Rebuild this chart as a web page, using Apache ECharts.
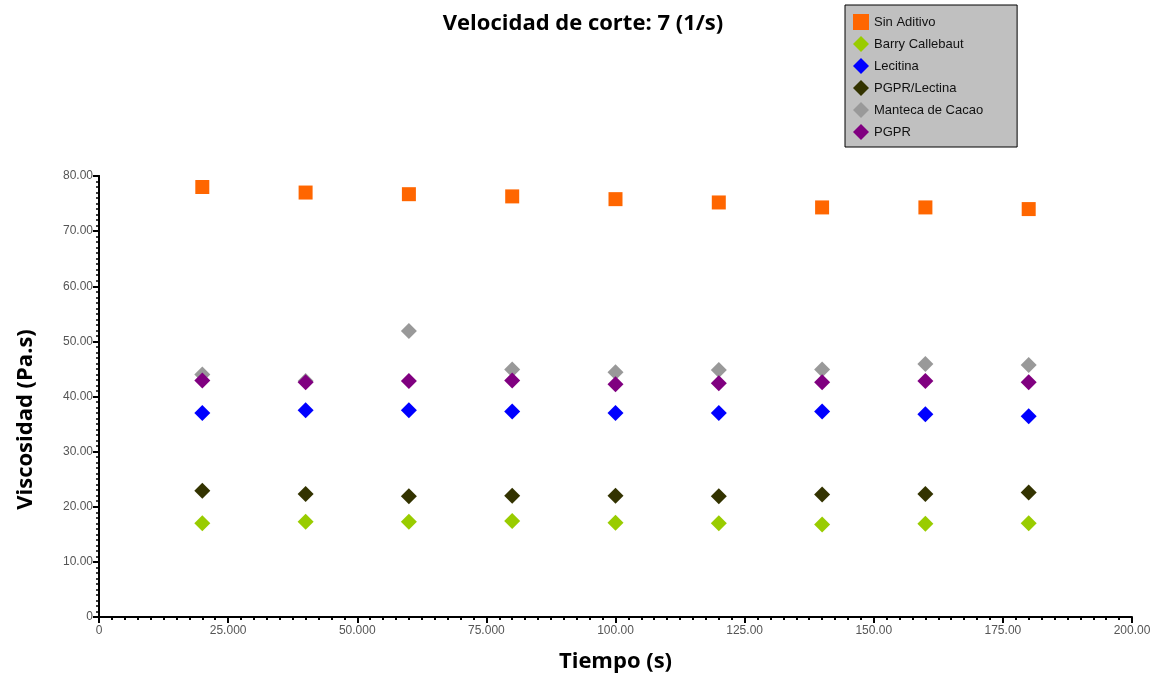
<!DOCTYPE html>
<html><head><meta charset="utf-8">
<script src="https://cdn.jsdelivr.net/npm/echarts@6/dist/echarts.min.js"></script>
<style>html,body{margin:0;padding:0;background:#fff}#c{width:1163px;height:679px}</style>
</head><body><div id="c"></div>
<script>
const tiempos = [20, 40, 60, 80, 100, 120, 140, 160, 180];
const sinAditivo = [78.0, 77.0, 76.7, 76.3, 75.8, 75.2, 74.3, 74.3, 74.0];
const barryCallebaut = [17.0, 17.3, 17.3, 17.4, 17.1, 17.0, 16.8, 16.9, 17.0];
const lecitina = [37.0, 37.5, 37.5, 37.3, 37.0, 37.0, 37.3, 36.8, 36.4];
const pgprLecitina = [22.9, 22.3, 21.9, 22.0, 22.0, 21.9, 22.2, 22.3, 22.6];
const mantecaCacao = [44.0, 42.8, 51.9, 44.9, 44.4, 44.8, 44.9, 45.9, 45.7];
const pgpr = [42.9, 42.6, 42.8, 42.9, 42.2, 42.4, 42.6, 42.8, 42.6];
const xTickLabels = {0:'0',25:'25.000',50:'50.000',75:'75.000',100:'100.00',125:'125.00',150:'150.00',175:'175.00',200:'200.00'};
const yTickLabels = {0:'0',10:'10.00',20:'20.00',30:'30.00',40:'40.00',50:'50.00',60:'60.00',70:'70.00',80:'80.00'};

const seriesDefs = [
  {name:'Sin Aditivo', data:sinAditivo, color:'#ff6600', symbol:'rect', size:14},
  {name:'Barry Callebaut', data:barryCallebaut, color:'#99cc00', symbol:'diamond', size:[16,16]},
  {name:'Lecitina', data:lecitina, color:'#0000ff', symbol:'diamond', size:[16,16]},
  {name:'PGPR/Lectina', data:pgprLecitina, color:'#333300', symbol:'diamond', size:[16,16]},
  {name:'Manteca de Cacao', data:mantecaCacao, color:'#999999', symbol:'diamond', size:[16,16]},
  {name:'PGPR', data:pgpr, color:'#800080', symbol:'diamond', size:[16,16]}
];
const zOrder = {'Sin Aditivo':1,'Barry Callebaut':1,'Lecitina':1,'PGPR/Lectina':1,'Manteca de Cacao':1,'PGPR':2};

const chart = echarts.init(document.getElementById('c'), null, {renderer:'canvas'});
const tickFont = {color:'#555', fontSize:12, fontFamily:'Liberation Sans, Arial, sans-serif'};
chart.setOption({
  animation:false,
  backgroundColor:'#fff',
  title:{text:'Velocidad de corte: 7 (1/s)', left:578, top:8, textAlign:'center',
    textStyle:{fontSize:22, fontWeight:'bold', color:'#000', fontFamily:'Open Sans, Noto Sans, sans-serif'}},
  legend:{
    orient:'vertical', left:845, top:5, padding:[9,34,7,8],
    backgroundColor:'#c0c0c0', borderColor:'#000', borderWidth:1,
    itemGap:6, itemWidth:16, itemHeight:16,
    textStyle:{fontSize:13, color:'#111', fontFamily:'Liberation Sans, Arial, sans-serif'},
    data: seriesDefs.map(s=>({name:s.name, icon: s.symbol==='rect'?'rect':'diamond'}))
  },
  grid:{left:99, right:31, top:176, bottom:62, containLabel:false, outerBoundsMode:'none'},
  xAxis:{
    type:'value', min:0, max:200, interval:25,
    name:'Tiempo (s)', nameLocation:'middle', nameGap:34,
    nameTextStyle:{fontSize:22, fontWeight:'bold', color:'#000', fontFamily:'Open Sans, Noto Sans, sans-serif'},
    axisLine:{show:true, onZero:false, lineStyle:{color:'#000', width:2}},
    axisTick:{show:true, inside:false, length:6, lineStyle:{color:'#000', width:2}},
    minorTick:{show:true, splitNumber:10, length:3, lineStyle:{color:'#000', width:2}},
    splitLine:{show:false},
    axisLabel:{...tickFont, margin:8, formatter:v=>xTickLabels[v]!==undefined?xTickLabels[v]:''}
  },
  yAxis:[{
    type:'value', min:0, max:80, interval:10,
    name:'Viscosidad (Pa.s)', nameLocation:'middle', nameGap:62, nameRotate:90,
    nameTextStyle:{fontSize:22, fontWeight:'bold', color:'#000', fontFamily:'Open Sans, Noto Sans, sans-serif', padding:[0,0,0,-46]},
    axisLine:{show:true, onZero:false, lineStyle:{color:'#000', width:2}},
    axisTick:{show:true, inside:false, length:6, lineStyle:{color:'#000', width:2}},
    minorTick:{show:true, splitNumber:10, length:3, lineStyle:{color:'#000', width:1.5}},
    splitLine:{show:false},
    axisLabel:{...tickFont, margin:6, formatter:v=>yTickLabels[v]!==undefined?yTickLabels[v]:''}
  },{
    type:'value', min:0, max:80, interval:10, position:'right',
    axisLine:{show:true, lineStyle:{color:'#000', width:2}},
    axisTick:{show:false}, axisLabel:{show:false}, splitLine:{show:false}
  }],
  series: seriesDefs.map(s=>({
    name:s.name, type:'scatter', symbol:s.symbol, symbolSize:s.size, z:zOrder[s.name]+2,
    itemStyle:{color:s.color, opacity:1},
    data: tiempos.map((t,i)=>[t, s.data[i]])
  }))
});
</script></body></html>
